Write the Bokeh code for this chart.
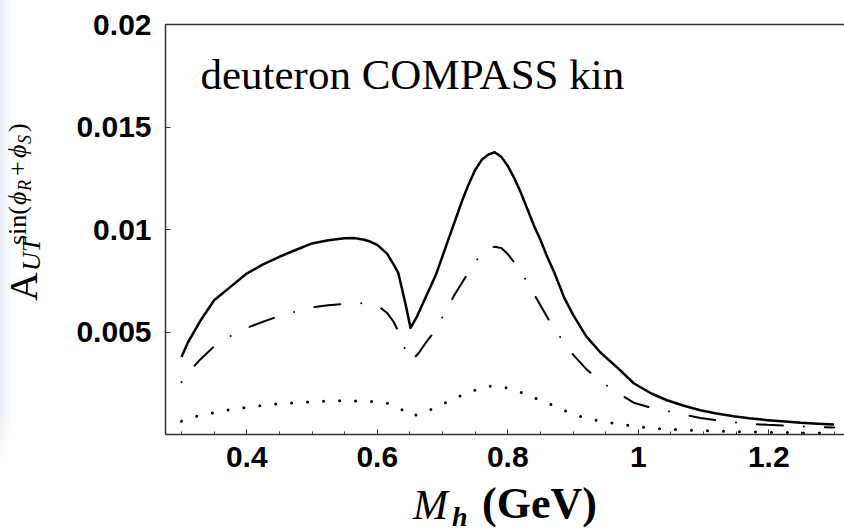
from bokeh.embed import file_html
from bokeh.layouts import column, row
from bokeh.models import Div, FixedTicker, Label, LinearAxis, Range1d
from bokeh.plotting import figure
from bokeh.resources import INLINE

# Invariant mass grid (GeV) and the three asymmetry curves
mh_full = [0.300, 0.310, 0.330, 0.350, 0.375, 0.400, 0.425, 0.450, 0.475, 0.500,
           0.525, 0.550, 0.565, 0.580, 0.590, 0.600, 0.615, 0.625, 0.632, 0.638,
           0.643, 0.647, 0.651, 0.660, 0.670, 0.680, 0.690, 0.700, 0.710, 0.720,
           0.730, 0.740, 0.750, 0.760, 0.770, 0.780, 0.790, 0.800, 0.810, 0.820,
           0.830, 0.840, 0.850, 0.860, 0.870, 0.880, 0.886, 0.900, 0.920, 0.942,
           0.970, 0.993, 1.020, 1.044, 1.070, 1.095, 1.120, 1.146, 1.170, 1.198,
           1.225, 1.249, 1.275, 1.300]
a_full = [0.00378, 0.00450, 0.00560, 0.00655, 0.00720, 0.00785, 0.00830, 0.00867, 0.00900, 0.00932,
          0.00948, 0.00957, 0.00958, 0.00950, 0.00940, 0.00925, 0.00882, 0.00830, 0.00790, 0.00710,
          0.00640, 0.00580, 0.00520, 0.00570, 0.00640, 0.00710, 0.00780, 0.00870, 0.00960, 0.01050,
          0.01140, 0.01220, 0.01290, 0.01340, 0.01365, 0.01377, 0.01355, 0.01310, 0.01250, 0.01180,
          0.01100, 0.01020, 0.00950, 0.00870, 0.00800, 0.00720, 0.00670, 0.00585, 0.00480, 0.00400,
          0.00320, 0.00250, 0.00200, 0.00167, 0.00140, 0.00118, 0.00102, 0.00089, 0.00079, 0.00070,
          0.00063, 0.00057, 0.00053, 0.00049]

mh_dashdot = [0.300, 0.310, 0.330, 0.350, 0.375, 0.400, 0.425, 0.450, 0.475, 0.500,
              0.525, 0.550, 0.565, 0.580, 0.600, 0.615, 0.625, 0.636, 0.646, 0.652,
              0.663, 0.675, 0.687, 0.703, 0.718, 0.740, 0.758, 0.770, 0.780, 0.790,
              0.800, 0.814, 0.832, 0.850, 0.870, 0.886, 0.900, 0.920, 0.942, 0.970,
              0.993, 1.020, 1.044, 1.070, 1.095, 1.120, 1.146, 1.170, 1.198, 1.225,
              1.249, 1.275, 1.300]
a_dashdot = [0.00256, 0.00300, 0.00370, 0.00430, 0.00480, 0.00520, 0.00550, 0.00578, 0.00600, 0.00620,
             0.00630, 0.00638, 0.00642, 0.00640, 0.00630, 0.00593, 0.00550, 0.00480, 0.00383, 0.00360,
             0.00395, 0.00450, 0.00500, 0.00590, 0.00679, 0.00792, 0.00877, 0.00905, 0.00916, 0.00910,
             0.00880, 0.00822, 0.00732, 0.00630, 0.00520, 0.00450, 0.00390, 0.00320, 0.00260, 0.00200,
             0.00155, 0.00130, 0.00115, 0.00098, 0.00080, 0.00070, 0.00060, 0.00053, 0.00047, 0.00043,
             0.00040, 0.00037, 0.00034]

mh_dotted = [0.300, 0.325, 0.350, 0.375, 0.400, 0.425, 0.450, 0.500, 0.550, 0.580,
             0.600, 0.613, 0.635, 0.654, 0.677, 0.700, 0.720, 0.742, 0.764, 0.780,
             0.789, 0.812, 0.834, 0.860, 0.880, 0.900, 0.920, 0.947, 0.972, 0.996,
             1.020, 1.050, 1.100, 1.150, 1.200, 1.250, 1.300]
a_dotted = [0.00065, 0.00091, 0.00107, 0.00122, 0.00133, 0.00142, 0.00150, 0.00160, 0.00165, 0.00163,
            0.00160, 0.00156, 0.00127, 0.00089, 0.00115, 0.00148, 0.00178, 0.00208, 0.00232, 0.00237,
            0.00235, 0.00216, 0.00187, 0.00155, 0.00125, 0.00100, 0.00080, 0.00061, 0.00050, 0.00040,
            0.00031, 0.00025, 0.00019, 0.00014, 0.00011, 0.00008, 0.00006]

x_major = [0.4, 0.6, 0.8, 1.0, 1.2]
x_minor = [0.30, 0.35, 0.45, 0.50, 0.55, 0.65, 0.70, 0.75, 0.85, 0.90, 0.95,
           1.05, 1.10, 1.15, 1.25, 1.30]
x_tick_labels = {0.4: "0.4", 0.6: "0.6", 0.8: "0.8", 1.0: "1", 1.2: "1.2"}
y_major = [0.005, 0.01, 0.015, 0.02]
y_tick_labels = {0.005: "0.005", 0.01: "0.01", 0.015: "0.015", 0.02: "0.02"}

# page geometry (pixels)
W, H = 844, 530
LEFT_W = 60            # strip holding the rotated y title
MAIN_H = 485           # main plot height; the x title strip fills the rest
FL, FT, FB = 165, 24, 434   # frame left / top / bottom on the page
X0, X1 = 0.2755, 1.316
Y0, Y1 = 0.0, 0.02

p = figure(width=W - LEFT_W, height=MAIN_H, output_backend="svg", toolbar_location=None,
           x_range=Range1d(X0, X1), y_range=Range1d(Y0, Y1),
           min_border_left=FL - LEFT_W, min_border_right=0,
           min_border_top=FT, min_border_bottom=MAIN_H - FB,
           x_axis_location=None, y_axis_location=None, margin=0)
p.grid.visible = False
p.outline_line_color = None
p.background_fill_color = "white"
p.border_fill_color = "white"

AX = "#333333"
TICK_FONT = "Liberation Sans"

xaxis = LinearAxis(ticker=FixedTicker(ticks=x_major, minor_ticks=x_minor),
                   major_label_overrides=x_tick_labels)
yaxis = LinearAxis(ticker=FixedTicker(ticks=y_major, minor_ticks=[]),
                   major_label_overrides=y_tick_labels)
top = LinearAxis(ticker=FixedTicker(ticks=[], minor_ticks=[]),
                 major_label_text_font_size="0px")
for ax in (xaxis, yaxis, top):
    ax.axis_line_color = AX
    ax.axis_line_width = 1.5
    ax.major_tick_line_color = AX
    ax.minor_tick_line_color = AX
    ax.major_tick_out = 0
    ax.minor_tick_out = 0
    ax.major_tick_in = 5
    ax.minor_tick_in = 3
    ax.major_label_text_font = TICK_FONT
    ax.major_label_text_font_style = "bold"
    ax.major_label_text_color = "black"
xaxis.major_label_text_font_size = "30px"
xaxis.major_label_standoff = 12
yaxis.major_label_text_font_size = "30px"
yaxis.major_label_standoff = 14
p.add_layout(xaxis, "below")
p.add_layout(yaxis, "left")
p.add_layout(top, "above")

# curves
p.line(mh_full, a_full, line_color="black", line_width=2.5, line_join="round")
p.line(mh_dashdot, a_dashdot, line_color="black", line_width=2.0,
       line_dash="26 21 0 21", line_dash_offset=47, line_cap="round")
p.line(mh_dotted, a_dotted, line_color="black", line_width=3.0,
       line_dash="0 16", line_cap="round")

# panel caption (screen units are measured from the frame's bottom-left corner)
p.add_layout(Label(x=200 - FL, y=FB - 74, x_units="screen", y_units="screen",
                   text="deuteron COMPASS kin", text_font="Liberation Serif",
                   text_font_size="43px", text_color="black",
                   text_baseline="alphabetic"))

ASC = 0.8375   # baseline depth below the box top for Liberation Serif, line-height 1


def piece(text, u, baseline, size, italic=False, bold=False):
    style = (f"position:absolute;left:{u}px;top:{baseline - ASC * size:.1f}px;"
             f"font-size:{size}px;line-height:1;white-space:nowrap;"
             f"font-style:{'italic' if italic else 'normal'};"
             f"font-weight:{'bold' if bold else 'normal'};")
    return f'<div style="{style}">{text}</div>'


FONT = "font-family:'Liberation Serif',serif;color:black;"

# y title: A_UT^{sin(phi_R + phi_S)}, reading upward; the inner box is turned
# about its top-left corner, which sits at (0, PIVOT) in the strip
PIVOT = 310
SUP = 27      # superscript baseline
SUB = 41      # subscript baseline
y_pieces = "".join([
    piece("A", PIVOT - 301, 37, 40),
    piece("UT", PIVOT - 271, SUB, 26, italic=True),
    piece("sin(", PIVOT - 245, SUP, 26),
    piece("\u03d5", PIVOT - 205, SUP, 26, italic=True),
    piece("R", PIVOT - 191, SUP + 4, 18, italic=True),
    piece("+", PIVOT - 176, SUP, 26),
    piece("\u03d5", PIVOT - 158, SUP, 26, italic=True),
    piece("S", PIVOT - 144, SUP + 4, 18, italic=True),
    piece(")", PIVOT - 132, SUP, 26),
])
# faint bluish band along the page's left edge, fading out near the bottom
EDGE = ('<div style="position:absolute;left:0px;top:0px;width:12px;height:470px;'
        'background:linear-gradient(to right,#e9eef3 0px,#f2f5f8 5px,rgba(255,255,255,0) 11px);'
        '-webkit-mask-image:linear-gradient(to bottom,#000 88%,transparent 100%);'
        'mask-image:linear-gradient(to bottom,#000 88%,transparent 100%);"></div>')
y_html = (f'<div style="position:relative;width:{LEFT_W}px;height:{MAIN_H}px;{FONT}">'
          f'{EDGE}'
          f'<div style="position:absolute;left:0px;top:{PIVOT}px;width:220px;height:50px;'
          f'transform-origin:0 0;transform:rotate(-90deg);">{y_pieces}</div></div>')
y_title = Div(text=y_html, width=LEFT_W, height=MAIN_H, margin=0)

# x title: M_h (GeV)
XT = MAIN_H
x_pieces = "".join([
    piece("M", 413, 519 - XT, 42, italic=True),
    piece("h", 452, 526 - XT, 28, italic=True, bold=True),
    piece("(GeV)", 482, 519 - XT, 44, bold=True),
])
x_html = (f'<div style="position:relative;width:{W}px;height:{H - MAIN_H}px;{FONT}">'
          f'{x_pieces}</div>')
x_title = Div(text=x_html, width=W, height=H - MAIN_H, margin=0)

page = column(row(y_title, p, spacing=0, margin=0), x_title, spacing=0, margin=0)
open("out.html", "w").write(file_html(page, INLINE))
